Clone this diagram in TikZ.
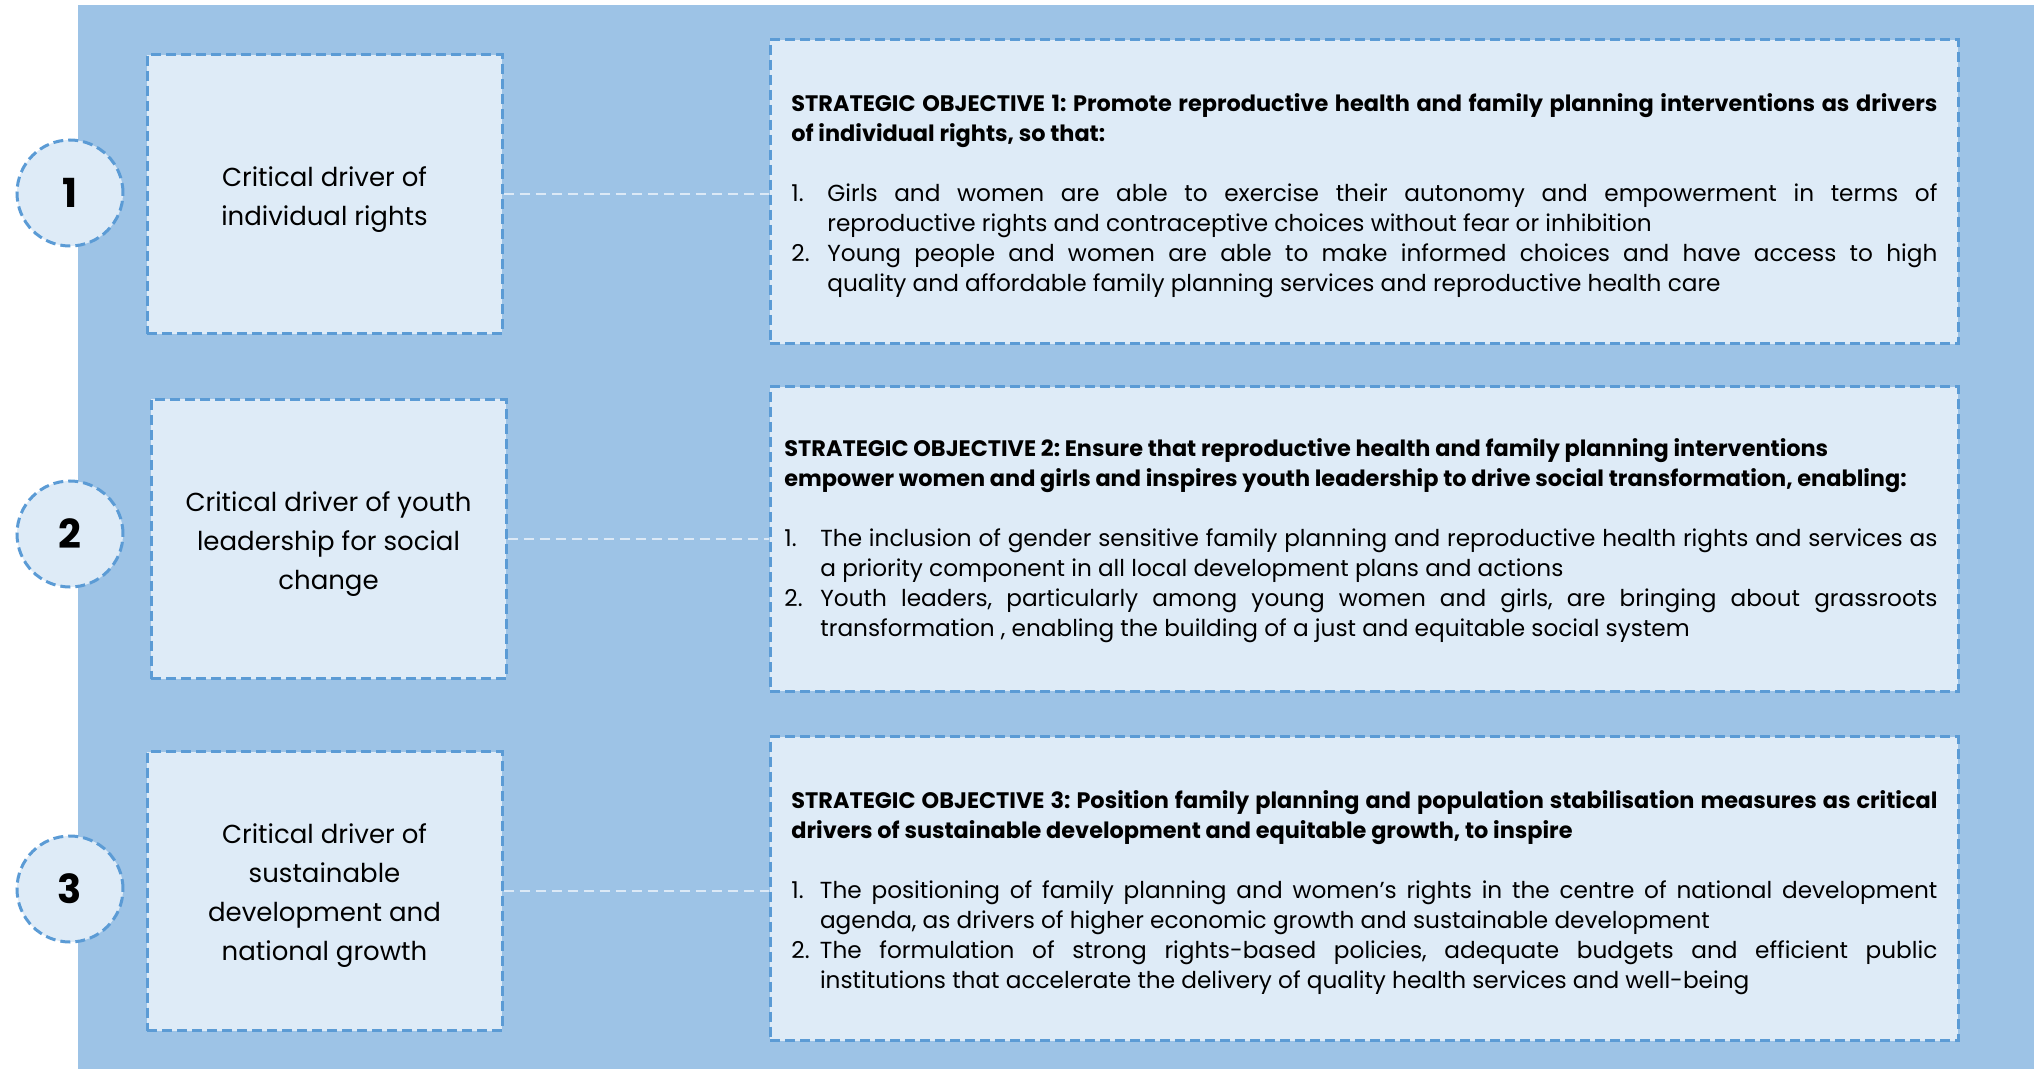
\documentclass[tikz,border=0pt]{standalone}
\usepackage{fontspec}
\setmainfont{Poppins}
\frenchspacing
\definecolor{bgblue}{HTML}{9DC3E6}
\definecolor{boxfill}{HTML}{DEEBF7}
\definecolor{dashblue}{HTML}{5B9BD5}
\definecolor{linkcol}{HTML}{DCE9F6}
\newcommand{\objitem}[3]{\par\noindent\hangindent=#1\hangafter=1\makebox[#1][l]{#2}#3}
\newcommand{\objhead}[1]{{\fontsize{11.2}{15}\selectfont\bfseries #1\par}}
\tikzset{
  dashframe/.style={draw=dashblue, fill=boxfill, line width=1.5pt, dash pattern=on 5pt off 2.5pt, inner sep=0pt},
  drvbox/.style={dashframe, rectangle, minimum width=177.5pt, minimum height=139.5pt},
  drvtext/.style={inner sep=0pt, align=center, font=\fontsize{13}{19.5}\selectfont},
  objbox/.style={dashframe, rectangle, minimum width=594pt, minimum height=152pt},
  numcircle/.style={dashframe, circle, minimum size=53pt, font=\fontsize{20}{24}\selectfont\bfseries},
  objtext/.style={anchor=north west, inner sep=0pt, align=justify,
     font=\fontsize{11.6}{15}\selectfont},
  link/.style={draw=linkcol, line width=1pt, dash pattern=on 5pt off 3pt},
}
\begin{document}
\begin{tikzpicture}[x=0.5pt,y=-0.5pt]
\useasboundingbox (0,0) rectangle (2044,1069);
\fill[bgblue] (78,5) rectangle (2034,1069);

% left driver boxes
\node[drvbox] (d1) at (324.5,194.5) {};
\node[drvbox] (d2) at (328.5,539) {};
\node[drvbox] (d3) at (324.5,891) {};
\node[drvtext] (d1t) at ([yshift=-2.5pt]d1.center) {Critical driver of\\individual rights};
\node[drvtext] (d2t) at ([yshift=-2.5pt]d2.center) {Critical driver of youth\\leadership for social\\change};
\node[drvtext] (d3t) at ([yshift=-2.5pt]d3.center) {Critical driver of\\sustainable\\development and\\national growth};

% number circles
\node[numcircle] (c1) at (70,193) {1};
\node[numcircle] (c2) at (70,534) {2};
\node[numcircle] (c3) at (70,889) {3};

% objective boxes
\node[objbox] (o1) at (1364,192) {};
\node[objbox] (o2) at (1364,539) {};
\node[objbox] (o3) at (1364,888.5) {};

% connectors
\draw[link] (d1.east) -- (d1.east -| o1.west);
\draw[link] (d2.east) -- (d2.east -| o2.west);
\draw[link] (d3.east) -- (d3.east -| o3.west);

% objective texts
\node[objtext, text width=573pt] (t1) at (791,93) {%
\objhead{STRATEGIC OBJECTIVE 1: Promote reproductive health and family planning interventions as drivers\linebreak of individual rights, so that:}
\vspace{\baselineskip}
\objitem{18pt}{1.}{Girls and women are able to exercise their autonomy and empowerment in terms of\linebreak reproductive rights and contraceptive choices without fear or inhibition}
\objitem{18pt}{2.}{Young people and women are able to make informed choices and have access to high\linebreak quality and affordable family planning services and reproductive health care}\par};

\node[objtext, text width=576.5pt] (t2) at (784,438) {%
\objhead{STRATEGIC OBJECTIVE 2: Ensure that reproductive health and family planning interventions\newline empower women and girls and inspires youth leadership to drive social transformation, enabling:}
\vspace{\baselineskip}
\objitem{18pt}{1.}{The inclusion of gender sensitive family planning and reproductive health rights and services as\linebreak a priority component in all local development plans and actions}
\objitem{18pt}{2.}{Youth leaders, particularly among young women and girls, are bringing about grassroots\linebreak transformation , enabling the building of a just and equitable social system}\par};

\node[objtext, text width=573pt] (t3) at (791,790) {%
\objhead{STRATEGIC OBJECTIVE 3: Position family planning and population stabilisation measures as critical\linebreak drivers of sustainable development and equitable growth, to inspire}
\vspace{\baselineskip}
\objitem{14.3pt}{1.}{The positioning of family planning and women’s rights in the centre of national development\linebreak agenda, as drivers of higher economic growth and sustainable development}
\objitem{14.3pt}{2.}{The formulation of strong rights-based policies, adequate budgets and efficient public\linebreak institutions that accelerate the delivery of quality health services and well-being}\par};
\end{tikzpicture}
\end{document}
